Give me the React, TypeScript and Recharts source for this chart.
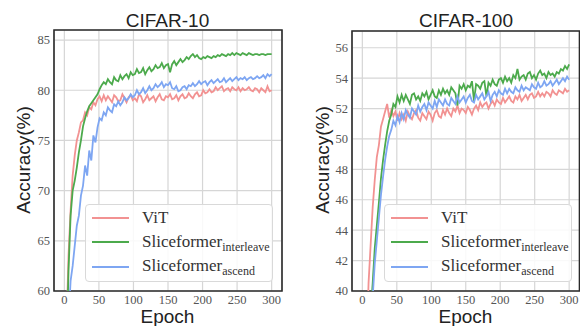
import React from 'react';
import { LineChart, Line, XAxis, YAxis, CartesianGrid, ReferenceArea, Legend } from 'recharts';

const epochs = [
  0, 3, 6, 9, 12, 15, 18, 21, 24, 27,
  30, 33, 36, 39, 42, 45, 48, 51, 54, 57,
  60, 63, 66, 69, 72, 75, 78, 81, 84, 87,
  90, 93, 96, 99, 102, 105, 108, 111, 114, 117,
  120, 123, 126, 129, 132, 135, 138, 141, 144, 147,
  150, 153, 156, 159, 162, 165, 168, 171, 174, 177,
  180, 183, 186, 189, 192, 195, 198, 201, 204, 207,
  210, 213, 216, 219, 222, 225, 228, 231, 234, 237,
  240, 243, 246, 249, 252, 255, 258, 261, 264, 267,
  270, 273, 276, 279, 282, 285, 288, 291, 294, 297,
  300,
];

const cifar10Vit = [
  40, 56, 63.5, 68, 71.5, 73.5, 75, 75.8, 76.8, 77,
  77.8, 77.5, 78.3, 78.1, 78.8, 78.5, 79.1, 79.4, 78.9, 79.5,
  79.0, 79.4, 79.1, 78.8, 79.5, 79.3, 78.9, 79.0, 79.6, 79.2,
  78.8, 79.3, 79.5, 79.0, 79.2, 78.9, 79.6, 79.4, 78.8, 79.1,
  79.5, 79.0, 79.2, 79.4, 78.9, 79.3, 79.6, 79.1, 79.0, 79.4,
  79.3, 79.6, 79.1, 79.2, 79.5, 79.0, 79.4, 79.6, 79.2, 79.3,
  79.7, 79.4, 79.2, 79.6, 79.8, 79.4, 79.5, 80.0, 79.7, 79.8,
  80.1, 79.8, 79.9, 80.3, 80.0, 80.2, 80.4, 79.9, 80.1, 80.2,
  79.9, 80.3, 80.1, 80.0, 80.3, 79.9, 80.2, 80.0, 80.1, 80.3,
  80.0, 79.9, 80.2, 80.1, 79.8, 80.2, 80.0, 79.8, 80.4, 79.9,
  80.0,
];

const cifar10Interleave = [
  35, 54, 62, 67.5, 70, 71, 72.3, 73.8, 75, 76.4,
  77.2, 77.9, 78.4, 78.7, 79.0, 79.3, 79.6, 80.1, 80.5, 80.8,
  80.6, 81.1, 80.8, 80.6, 81.3, 81.0, 80.9, 81.5, 81.1, 81.4,
  81.6, 81.2, 81.8, 81.5, 81.6, 82.1, 81.7, 81.8, 82.2, 81.6,
  82.0, 82.3, 81.9, 82.1, 82.5, 82.2, 82.3, 82.7, 82.2, 82.5,
  82.6, 81.8, 82.6, 82.9, 82.5, 82.8, 83.1, 82.8, 83.0, 83.3,
  83.1, 83.4, 83.6, 83.3, 83.5, 83.2, 83.1, 83.3, 83.2, 83.4,
  83.3, 83.2, 83.4, 83.3, 83.5, 83.4, 83.6, 83.5, 83.4, 83.6,
  83.5, 83.7, 83.5, 83.7, 83.6, 83.5, 83.7, 83.6, 83.5, 83.7,
  83.6, 83.5, 83.6, 83.6, 83.5, 83.6, 83.6, 83.5, 83.6, 83.6,
  83.6,
];

const cifar10Ascend = [
  30, 45, 57, 61, 62.5, 64.5, 66.5, 67.5, 69.5, 70.5,
  72.5, 71.5, 74, 73, 75.5, 74.8, 76.3, 77.2, 77.0, 77.8,
  77.5, 78.3, 78.0, 77.8, 78.6, 78.4, 78.9, 78.5, 78.8, 79.3,
  79.0, 79.2, 79.6, 79.3, 79.5, 80.0, 79.6, 79.8, 80.2, 79.7,
  80.0, 80.4, 80.0, 80.2, 80.6, 80.3, 80.5, 80.8, 80.3, 80.6,
  80.5, 80.8, 80.2, 80.1, 80.4, 79.9, 80.0, 80.3, 80.4, 80.1,
  80.5, 80.4, 80.7, 80.4, 80.6, 80.9, 80.6, 80.8, 80.9, 80.5,
  80.8, 81.0, 80.7, 80.9, 81.1, 80.8, 80.9, 81.2, 80.8, 81.0,
  81.2, 80.9, 81.1, 81.3, 81.0, 81.2, 81.1, 81.3, 81.0, 81.2,
  81.3, 81.1, 81.2, 81.4, 81.2, 81.3, 81.5, 81.2, 81.6, 81.4,
  81.6,
];

const cifar100Vit = [
  20, 30, 36, 40.5, 43, 45.5, 47.3, 48.8, 49.6, 50.8,
  51.3, 51.8, 52.3, 51.4, 51.9, 51.5, 51.8, 51.2, 51.7, 51.3,
  51.6, 51.2, 51.8, 51.5, 51.3, 51.7, 51.9, 51.4, 51.2, 51.7,
  51.5, 51.3, 51.8, 51.6, 51.2, 51.7, 51.9, 51.5, 51.4, 51.9,
  51.6, 52.0, 51.7, 51.5, 52.0, 51.8, 52.2, 51.7, 52.0, 51.9,
  51.7, 52.1, 51.9, 51.6, 52.0, 52.2, 51.9, 52.4, 52.1, 52.3,
  52.4, 52.0, 52.3, 52.5, 52.2, 52.6, 52.4, 52.3, 52.7, 52.4,
  52.6, 52.8, 52.5, 52.4, 52.8, 52.6, 52.9, 52.5, 52.7, 52.9,
  52.6, 52.9, 53.0, 52.7, 52.8, 53.1, 52.8, 53.0, 52.8, 53.1,
  53.0, 52.8, 53.2, 53.0, 52.9, 53.2, 53.1, 53.0, 53.3, 53.1,
  53.2,
];

const cifar100Interleave = [
  15, 25, 30, 35, 38.5, 40.5, 42.8, 44.3, 45.8, 47.4,
  48.6, 49.6, 50.5, 51.2, 51.6, 52.3, 52.1, 52.8, 52.4, 52.9,
  52.5, 52.9, 52.6, 52.3, 52.9, 53.0, 52.6, 52.8, 52.5, 53.0,
  52.8, 53.1, 52.6, 52.9, 53.2, 52.8, 52.7, 53.2, 52.9, 53.3,
  53.0, 53.2, 52.9, 53.4, 53.2, 53.0, 52.2, 53.5, 53.3, 53.6,
  53.2, 53.5, 53.4, 53.8, 52.5, 53.6, 53.5, 53.3, 53.7, 53.8,
  52.8, 53.7, 53.5, 53.9, 53.6, 53.5, 53.9, 54.0, 53.7, 54.1,
  53.8, 54.0, 53.7, 54.2, 54.0, 54.6, 53.9, 54.1, 54.2, 53.9,
  54.3, 54.4, 54.0, 54.2, 53.9, 54.3, 54.5, 54.2, 54.3, 54.0,
  54.4, 54.2, 54.3, 54.1, 54.4, 54.3, 54.6, 54.5, 54.8, 54.6,
  54.9,
];

const cifar100Ascend = [
  15, 24, 29, 34, 37.5, 39.6, 41.8, 43.3, 44.8, 46.3,
  47.5, 48.6, 49.5, 50.2, 50.6, 51.2, 50.9, 51.5, 51.1, 51.7,
  51.3, 51.9, 51.6, 51.4, 52.0, 51.8, 51.6, 52.2, 51.8, 52.1,
  52.3, 51.9, 52.4, 52.2, 52.0, 52.5, 52.1, 52.6, 52.4, 52.2,
  52.6, 52.3, 52.2, 52.7, 52.5, 52.3, 52.8, 52.4, 52.6, 52.8,
  52.4, 52.7, 52.9, 52.5, 52.4, 52.9, 52.6, 52.8, 53.0, 52.6,
  52.8, 53.1, 52.5, 52.9, 53.1, 52.8, 53.2, 53.0, 52.9, 53.3,
  53.0, 53.3, 53.1, 53.0, 53.4, 53.2, 53.1, 53.5, 53.2, 53.4,
  53.3, 53.2, 53.6, 53.4, 53.3, 53.7, 53.4, 53.5, 53.8, 53.5,
  53.6, 53.8, 53.5, 53.7, 53.9, 53.6, 53.8, 54.0, 53.8, 54.1,
  53.9,
];

const xTicks = [0, 50, 100, 150, 200, 250, 300];
const cifar10Ticks = [60, 65, 70, 75, 80, 85];
const cifar100Ticks = [40, 42, 44, 46, 48, 50, 52, 54, 56];

const C_VIT = '#f29292';
const C_INTER = '#4caa4c';
const C_ASC = '#7ea6f2';

const SERIF = '"Liberation Serif", "Times New Roman", serif';
const SANS = '"Liberation Sans", Arial, sans-serif';

function buildRows(vit: number[], inter: number[], asc: number[]) {
  return epochs.map((e, i) => ({ epoch: e, vit: vit[i], inter: inter[i], asc: asc[i] }));
}

const rows10 = buildRows(cifar10Vit, cifar10Interleave, cifar10Ascend);
const rows100 = buildRows(cifar100Vit, cifar100Interleave, cifar100Ascend);

const LegendBox = () => {
  const items = [
    { color: C_VIT, main: 'ViT', sub: '' },
    { color: C_INTER, main: 'Sliceformer', sub: 'interleave' },
    { color: C_ASC, main: 'Sliceformer', sub: 'ascend' },
  ];
  return (
    <div
      style={{
        width: 188,
        height: 78,
        boxSizing: 'border-box',
        border: '1px solid #d9d9d9',
        borderRadius: 4,
        background: 'rgba(255,255,255,0.85)',
        paddingTop: 0.5,
        fontFamily: SERIF,
        color: '#333',
      }}
    >
      {items.map((it) => (
        <div key={it.main + it.sub} style={{ height: 24.5, display: 'flex', alignItems: 'center' }}>
          <div style={{ width: 37, height: 2, background: it.color, marginLeft: 6, marginRight: 13 }} />
          <span style={{ fontSize: 17, lineHeight: '17px', whiteSpace: 'nowrap' }}>
            {it.main}
            {it.sub ? (
              <span style={{ fontSize: 12, position: 'relative', top: 4 }}>{it.sub}</span>
            ) : null}
          </span>
        </div>
      ))}
    </div>
  );
};

type PanelProps = {
  rows: any[];
  yDomain: [number, number];
  yTicks: number[];
  width: number;
  yAxisWidth: number;
  marginTop: number;
  marginRight: number;
  legendLeft: number;
};

const Panel = ({ rows, yDomain, yTicks, width, yAxisWidth, marginTop, marginRight, legendLeft }: PanelProps) => (
  <LineChart
    width={width}
    height={326}
    data={rows}
    margin={{ top: marginTop, right: marginRight, bottom: 5, left: 0 }}
  >
    <CartesianGrid stroke="#d6d6d6" strokeWidth={1.2} />
    <XAxis
      dataKey="epoch"
      type="number"
      domain={[-15, 315]}
      ticks={xTicks}
      interval={0}
      height={30}
      tickLine={false}
      axisLine={false}
      tickSize={2}
      tickMargin={2}
      tick={{ fontSize: 12.5, fill: '#555', fontFamily: SERIF }}
      allowDataOverflow
    />
    <YAxis
      type="number"
      domain={yDomain}
      ticks={yTicks}
      interval={0}
      width={yAxisWidth}
      tickLine={false}
      axisLine={false}
      tickSize={2}
      tickMargin={2}
      tick={{ fontSize: 12.5, fill: '#555', fontFamily: SERIF }}
      allowDataOverflow
    />
    <Line type="linear" dataKey="vit" stroke={C_VIT} strokeWidth={1.8} dot={false} isAnimationActive={false} />
    <Line type="linear" dataKey="inter" stroke={C_INTER} strokeWidth={1.8} dot={false} isAnimationActive={false} />
    <Line type="linear" dataKey="asc" stroke={C_ASC} strokeWidth={1.8} dot={false} isAnimationActive={false} />
    <ReferenceArea
      x1={-15}
      x2={315}
      y1={yDomain[0]}
      y2={yDomain[1]}
      fill="none"
      fillOpacity={0}
      stroke="#2a2a2a"
      strokeWidth={1.6}
      ifOverflow="visible"
    />
    <Legend
      layout="vertical"
      align="center"
      verticalAlign="middle"
      content={() => <LegendBox />}
      wrapperStyle={{ left: legendLeft, top: 204, width: 188, height: 78 }}
    />
  </LineChart>
);

export default function App() {
  return (
    <div
      style={{
        position: 'absolute',
        left: 0,
        top: 0,
        width: 580,
        height: 326,
        overflow: 'hidden',
        background: '#fff',
      }}
    >
      <div style={{ position: 'absolute', left: 0, top: 0 }}>
        <Panel
          rows={rows10}
          yDomain={[60, 86]}
          yTicks={cifar10Ticks}
          width={290}
          yAxisWidth={54}
          marginTop={30}
          marginRight={8}
          legendLeft={85}
        />
      </div>
      <div style={{ position: 'absolute', left: 290, top: 0 }}>
        <Panel
          rows={rows100}
          yDomain={[40, 57.1]}
          yTicks={cifar100Ticks}
          width={291}
          yAxisWidth={62}
          marginTop={31}
          marginRight={1.5}
          legendLeft={94}
        />
      </div>
      <svg
        width={580}
        height={326}
        style={{ position: 'absolute', left: 0, top: 0, pointerEvents: 'none' }}
      >
        <g fontFamily={SANS} fontSize={19} fill="#222">
          <text x={167.5} y={26.7} textAnchor="middle">CIFAR-10</text>
          <text x={466} y={26.7} textAnchor="middle">CIFAR-100</text>
          <text x={167.5} y={323} textAnchor="middle">Epoch</text>
          <text x={465.5} y={323} textAnchor="middle">Epoch</text>
          <text x={30} y={160} textAnchor="middle" transform="rotate(-90 30 160)">Accuracy(%)</text>
          <text x={329} y={160} textAnchor="middle" transform="rotate(-90 329 160)">Accuracy(%)</text>
        </g>
      </svg>
    </div>
  );
}
